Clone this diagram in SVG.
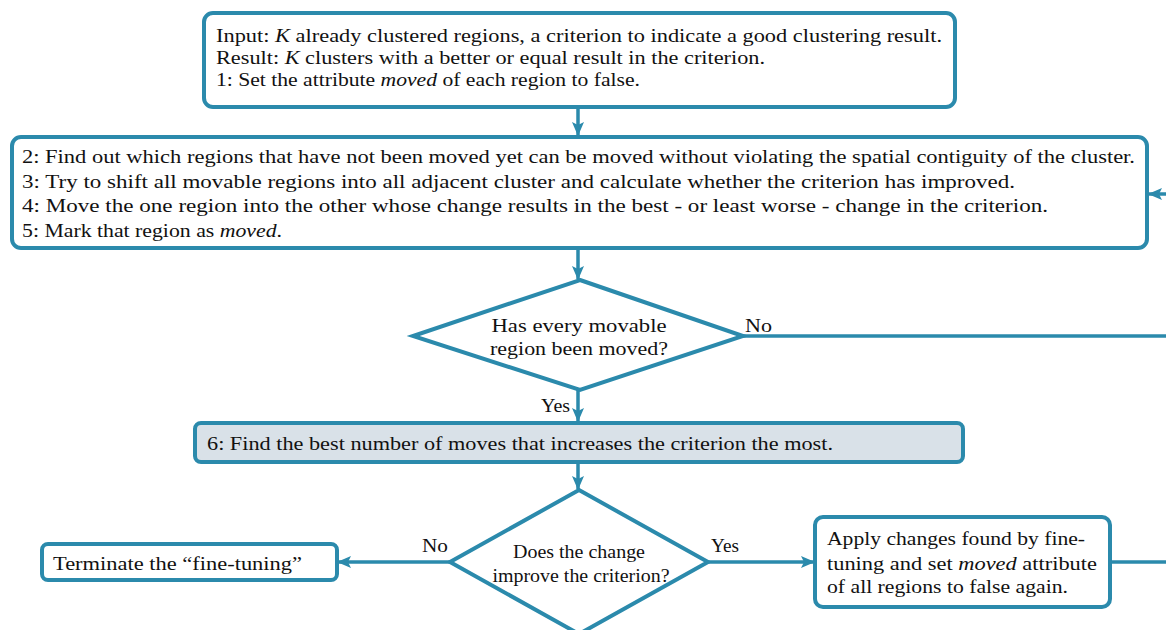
<svg xmlns="http://www.w3.org/2000/svg" width="1166" height="630" viewBox="0 0 1166 630">
<style>
.box{fill:#ffffff;stroke:#2b8aac;stroke-width:4}
.grey{fill:#d9e1e8}
.dia{fill:#ffffff;stroke:#2b8aac;stroke-width:4;stroke-linejoin:miter}
.t{font-family:"Liberation Serif","Times New Roman",serif;font-size:19.5px;fill:#111}
.td{font-family:"Liberation Serif","Times New Roman",serif;font-size:18.5px;fill:#111}
.c{text-anchor:middle}
.edge{fill:none;stroke:#2b8aac;stroke-width:3.5}
</style>
<defs>
<marker id="arr" viewBox="0 0 14 12" refX="13" refY="6" markerWidth="14" markerHeight="12" markerUnits="userSpaceOnUse" orient="auto">
<path d="M0,0 L14,6 L0,12 L3,6 Z" fill="#2b8aac"/>
</marker>
</defs>
<g id="connectors">
<line class="edge" x1="578" y1="107" x2="578" y2="135" marker-end="url(#arr)"/>
<line class="edge" x1="1166" y1="194" x2="1149" y2="194" marker-end="url(#arr)"/>
<line class="edge" x1="578" y1="249" x2="578" y2="279" marker-end="url(#arr)"/>
<line class="edge" x1="743" y1="336" x2="1166" y2="336"/>
<line class="edge" x1="578" y1="390" x2="578" y2="421" marker-end="url(#arr)"/>
<line class="edge" x1="578" y1="462" x2="578" y2="489" marker-end="url(#arr)"/>
<line class="edge" x1="450" y1="562" x2="338" y2="562" marker-end="url(#arr)"/>
<line class="edge" x1="708" y1="562" x2="814" y2="562" marker-end="url(#arr)"/>
<line class="edge" x1="1110" y1="562" x2="1166" y2="562"/>
<text class="t" x="745" y="332" textLength="27" lengthAdjust="spacingAndGlyphs">No</text>
<text class="t" x="541" y="412" textLength="29" lengthAdjust="spacingAndGlyphs">Yes</text>
<text class="t" x="422" y="552" textLength="26" lengthAdjust="spacingAndGlyphs">No</text>
<text class="t" x="711" y="552" textLength="28" lengthAdjust="spacingAndGlyphs">Yes</text>
</g>
<g id="input">
<rect class="box" x="204" y="13" width="751" height="94" rx="9"/>
<text class="t" x="216" y="42" textLength="726" lengthAdjust="spacingAndGlyphs">Input: <tspan font-style="italic">K</tspan> already clustered regions, a criterion to indicate a good clustering result.</text>
<text class="t" x="216" y="64" textLength="549" lengthAdjust="spacingAndGlyphs">Result: <tspan font-style="italic">K</tspan> clusters with a better or equal result in the criterion.</text>
<text class="t" x="216" y="86" textLength="424" lengthAdjust="spacingAndGlyphs">1: Set the attribute <tspan font-style="italic">moved</tspan> of each region to false.</text>
</g>
<g id="steps">
<rect class="box" x="12" y="137" width="1135" height="111" rx="9"/>
<text class="t" x="22" y="163" textLength="1113" lengthAdjust="spacingAndGlyphs">2: Find out which regions that have not been moved yet can be moved without violating the spatial contiguity of the cluster.</text>
<text class="t" x="22" y="188" textLength="993" lengthAdjust="spacingAndGlyphs">3: Try to shift all movable regions into all adjacent cluster and calculate whether the criterion has improved.</text>
<text class="t" x="22" y="212" textLength="1026" lengthAdjust="spacingAndGlyphs">4: Move the one region into the other whose change results in the best - or least worse - change in the criterion.</text>
<text class="t" x="22" y="237" textLength="260" lengthAdjust="spacingAndGlyphs">5: Mark that region as <tspan font-style="italic">moved</tspan>.</text>
</g>
<g id="decision1">
<polygon class="dia" points="580,280 743,336 580,390 413,336"/>
<text class="t c" x="579" y="332" textLength="175" lengthAdjust="spacingAndGlyphs">Has every movable</text>
<text class="t c" x="579" y="355" textLength="178" lengthAdjust="spacingAndGlyphs">region been moved?</text>
</g>
<g id="best">
<rect class="box grey" x="195" y="423" width="768" height="39" rx="6"/>
<text class="t" x="207" y="450" textLength="626" lengthAdjust="spacingAndGlyphs">6: Find the best number of moves that increases the criterion the most.</text>
</g>
<g id="decision2">
<polygon class="dia" points="579,490 708,562 579,634 450,562"/>
<text class="td c" x="579" y="558" textLength="132" lengthAdjust="spacingAndGlyphs">Does the change</text>
<text class="td c" x="581" y="582" textLength="177" lengthAdjust="spacingAndGlyphs">improve the criterion?</text>
</g>
<g id="terminate">
<rect class="box" x="42" y="544" width="295" height="36" rx="6"/>
<text class="t" x="53" y="570" textLength="249" lengthAdjust="spacingAndGlyphs">Terminate the “fine-tuning”</text>
</g>
<g id="apply">
<rect class="box" x="815" y="517" width="295" height="90" rx="8"/>
<text class="t" x="827" y="545" textLength="258" lengthAdjust="spacingAndGlyphs">Apply changes found by fine-</text>
<text class="t" x="827" y="570" textLength="270" lengthAdjust="spacingAndGlyphs">tuning and set <tspan font-style="italic">moved</tspan> attribute</text>
<text class="t" x="827" y="593" textLength="241" lengthAdjust="spacingAndGlyphs">of all regions to false again.</text>
</g>
</svg>
